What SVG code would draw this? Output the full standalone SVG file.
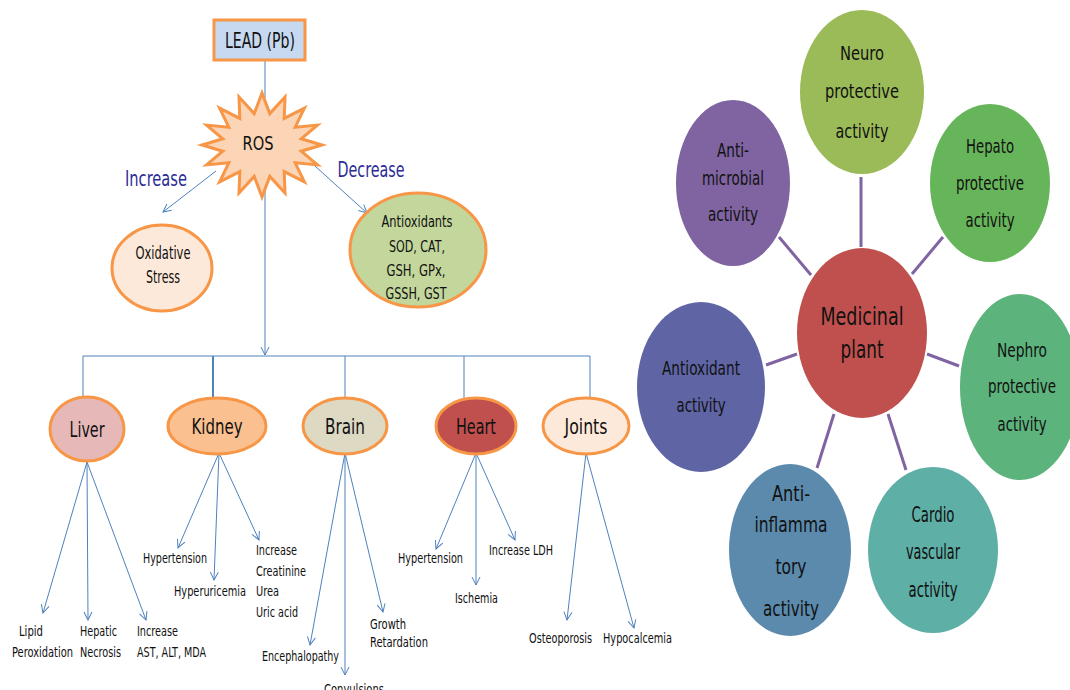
<svg xmlns="http://www.w3.org/2000/svg" width="1070" height="690" viewBox="0 0 1070 690">
<style>
text{font-family:"DejaVu Sans Condensed","Liberation Sans",sans-serif;fill:#111;text-anchor:middle}
.org{stroke:#f79646;stroke-width:3}
.conn line,.conn polyline{stroke:#4f81bd;stroke-width:1;fill:none}
.plink line{stroke:#8064a2;stroke-width:3}
.s14{font-size:15px}
.o{font-size:21px}
.r{font-size:20px}
.lbl{font-size:14px;text-anchor:start}
.blue{fill:#2b2b96;font-size:21px}
</style>
<defs>
<marker id="ah" viewBox="0 0 10 10" refX="9" refY="5" markerWidth="10" markerHeight="10" markerUnits="userSpaceOnUse" orient="auto">
<polyline points="1,1 9,5 1,9" fill="none" stroke="#4f81bd" stroke-width="1"/>
</marker>
</defs>
<rect width="1070" height="690" fill="#fff"/>

<g class="conn">
<line x1="265" y1="60" x2="265" y2="98"/>
<line x1="216" y1="171" x2="163" y2="212" marker-end="url(#ah)"/>
<line x1="305" y1="157" x2="367" y2="213" marker-end="url(#ah)"/>
<line x1="265" y1="190" x2="265" y2="355" marker-end="url(#ah)"/>
<polyline points="83,397 83,356 590,356 590,397"/>
<line x1="213" y1="356" x2="213" y2="398" style="stroke-width:2"/>
<line x1="345" y1="356" x2="345" y2="398"/>
<line x1="464" y1="356" x2="464" y2="398"/>
<line x1="87" y1="462" x2="43" y2="613" marker-end="url(#ah)"/>
<line x1="87" y1="462" x2="88" y2="620" marker-end="url(#ah)"/>
<line x1="87" y1="462" x2="146" y2="620" marker-end="url(#ah)"/>
<line x1="219" y1="453" x2="178" y2="548" marker-end="url(#ah)"/>
<line x1="219" y1="453" x2="214" y2="580" marker-end="url(#ah)"/>
<line x1="219" y1="453" x2="259" y2="540" marker-end="url(#ah)"/>
<line x1="345" y1="453" x2="310" y2="645" marker-end="url(#ah)"/>
<line x1="345" y1="453" x2="345" y2="675" marker-end="url(#ah)"/>
<line x1="345" y1="453" x2="383" y2="612" marker-end="url(#ah)"/>
<line x1="476" y1="453" x2="436" y2="549" marker-end="url(#ah)"/>
<line x1="476" y1="453" x2="476" y2="585" marker-end="url(#ah)"/>
<line x1="476" y1="453" x2="515" y2="540" marker-end="url(#ah)"/>
<line x1="586" y1="453" x2="567" y2="620" marker-end="url(#ah)"/>
<line x1="586" y1="453" x2="634" y2="628" marker-end="url(#ah)"/>
</g>

<g class="plink">
<line x1="861" y1="177" x2="861" y2="247"/>
<line x1="779" y1="237" x2="811" y2="275"/>
<line x1="943" y1="237" x2="912" y2="274"/>
<line x1="766" y1="365" x2="797" y2="354"/>
<line x1="927" y1="354" x2="959" y2="366"/>
<line x1="834" y1="414" x2="817" y2="468"/>
<line x1="888" y1="414" x2="906" y2="470"/>
</g>

<g id="lead">
<rect x="214" y="20" width="91" height="40" fill="#c6d9f1" class="org"/>
<text x="260" y="48" class="o" textLength="70" lengthAdjust="spacingAndGlyphs">LEAD (Pb)</text>
</g>
<g id="ros">
<polygon class="org" fill="#fbd5b5" points="262,93 269.8,113.6 285,97 284.2,118.4 304.4,108.2 295.2,127.2 317.4,125.1 301.2,138.8 322,145 301.2,151.2 317.4,164.9 295.2,162.8 304.4,181.8 284.2,171.6 285,193 269.8,176.4 262,197 254.2,176.4 239,193 239.8,171.6 219.6,181.8 228.8,162.8 206.6,164.9 222.8,151.2 202,145 222.8,138.8 206.6,125.1 228.8,127.2 219.6,108.2 239.8,118.4 239,97 254.2,113.6"/>
<text x="258" y="150" style="font-size:20px" textLength="31" lengthAdjust="spacingAndGlyphs">ROS</text>
</g>
<text class="blue" x="156" y="186" textLength="62" lengthAdjust="spacingAndGlyphs">Increase</text>
<text class="blue" x="371" y="177" textLength="67" lengthAdjust="spacingAndGlyphs">Decrease</text>
<g id="oxidative">
<ellipse cx="162" cy="268" rx="50" ry="43" fill="#fde9d9" class="org"/>
<text x="163" y="259" style="font-size:17px" textLength="55" lengthAdjust="spacingAndGlyphs">Oxidative</text>
<text x="163" y="283" style="font-size:17px" textLength="34" lengthAdjust="spacingAndGlyphs">Stress</text>
</g>
<g id="antioxidants">
<ellipse cx="418" cy="250" rx="68" ry="57" fill="#c3d69b" class="org"/>
<text class="s14" x="417" y="227" textLength="71" lengthAdjust="spacingAndGlyphs">Antioxidants</text>
<text class="s14" x="417" y="252" textLength="56" lengthAdjust="spacingAndGlyphs">SOD, CAT,</text>
<text class="s14" x="416" y="276" textLength="59" lengthAdjust="spacingAndGlyphs">GSH, GPx,</text>
<text class="s14" x="416" y="299" textLength="61" lengthAdjust="spacingAndGlyphs">GSSH, GST</text>
</g>

<g id="liver">
<ellipse cx="87" cy="429" rx="37" ry="32" fill="#e6b9b8" class="org"/>
<text x="87" y="437" class="o" textLength="35" lengthAdjust="spacingAndGlyphs">Liver</text>
</g>
<g id="kidney">
<ellipse cx="217" cy="426" rx="49" ry="28" fill="#fac090" class="org"/>
<text x="217" y="434" class="o" textLength="51" lengthAdjust="spacingAndGlyphs">Kidney</text>
</g>
<g id="brain">
<ellipse cx="345" cy="426" rx="42" ry="28" fill="#ddd9c3" class="org"/>
<text x="345" y="434" class="o" textLength="40" lengthAdjust="spacingAndGlyphs">Brain</text>
</g>
<g id="heart">
<ellipse cx="476" cy="426" rx="40" ry="28" fill="#c0504d" class="org"/>
<text x="476" y="434" class="o" textLength="40" lengthAdjust="spacingAndGlyphs">Heart</text>
</g>
<g id="joints">
<ellipse cx="586" cy="426" rx="43" ry="28" fill="#fde9d9" class="org"/>
<text x="586" y="434" class="o" textLength="43" lengthAdjust="spacingAndGlyphs">Joints</text>
</g>

<g id="liver-effects">
<text class="lbl" x="19" y="636" textLength="24" lengthAdjust="spacingAndGlyphs">Lipid</text>
<text class="lbl" x="12" y="657" textLength="61" lengthAdjust="spacingAndGlyphs">Peroxidation</text>
<text class="lbl" x="80" y="636" textLength="37" lengthAdjust="spacingAndGlyphs">Hepatic</text>
<text class="lbl" x="80" y="657" textLength="41" lengthAdjust="spacingAndGlyphs">Necrosis</text>
<text class="lbl" x="137" y="636" textLength="41" lengthAdjust="spacingAndGlyphs">Increase</text>
<text class="lbl" x="137" y="657" textLength="69" lengthAdjust="spacingAndGlyphs">AST, ALT, MDA</text>
</g>
<g id="kidney-effects">
<text class="lbl" x="143" y="563" textLength="64" lengthAdjust="spacingAndGlyphs">Hypertension</text>
<text class="lbl" x="174" y="596" textLength="72" lengthAdjust="spacingAndGlyphs">Hyperuricemia</text>
<text class="lbl" x="256" y="555" textLength="41" lengthAdjust="spacingAndGlyphs">Increase</text>
<text class="lbl" x="256" y="576" textLength="50" lengthAdjust="spacingAndGlyphs">Creatinine</text>
<text class="lbl" x="256" y="596" textLength="23" lengthAdjust="spacingAndGlyphs">Urea</text>
<text class="lbl" x="256" y="617" textLength="42" lengthAdjust="spacingAndGlyphs">Uric acid</text>
</g>
<g id="brain-effects">
<text class="lbl" x="262" y="661" textLength="77" lengthAdjust="spacingAndGlyphs">Encephalopathy</text>
<text class="lbl" x="324" y="694" textLength="60" lengthAdjust="spacingAndGlyphs">Convulsions</text>
<text class="lbl" x="370" y="629" textLength="36" lengthAdjust="spacingAndGlyphs">Growth</text>
<text class="lbl" x="370" y="647" textLength="58" lengthAdjust="spacingAndGlyphs">Retardation</text>
</g>
<g id="heart-effects">
<text class="lbl" x="398" y="563" textLength="65" lengthAdjust="spacingAndGlyphs">Hypertension</text>
<text class="lbl" x="455" y="603" textLength="43" lengthAdjust="spacingAndGlyphs">Ischemia</text>
<text class="lbl" x="489" y="555" textLength="64" lengthAdjust="spacingAndGlyphs">Increase LDH</text>
</g>
<g id="joints-effects">
<text class="lbl" x="529" y="643" textLength="63" lengthAdjust="spacingAndGlyphs">Osteoporosis</text>
<text class="lbl" x="603" y="643" textLength="69" lengthAdjust="spacingAndGlyphs">Hypocalcemia</text>
</g>

<g id="medicinal">
<ellipse cx="862" cy="333" rx="65" ry="85" fill="#c0504d"/>
<text x="862" y="325" style="font-size:25px" textLength="83" lengthAdjust="spacingAndGlyphs">Medicinal</text>
<text x="862" y="358" style="font-size:25px" textLength="43" lengthAdjust="spacingAndGlyphs">plant</text>
</g>
<g id="neuro">
<ellipse cx="862" cy="92" rx="62" ry="82" fill="#9bbb59"/>
<text x="862" y="60" class="r" textLength="44" lengthAdjust="spacingAndGlyphs">Neuro</text>
<text x="862" y="98" class="r" textLength="74" lengthAdjust="spacingAndGlyphs">protective</text>
<text x="862" y="138" class="r" textLength="53" lengthAdjust="spacingAndGlyphs">activity</text>
</g>
<g id="antimicrobial">
<ellipse cx="733" cy="183" rx="57" ry="83" fill="#8064a2"/>
<text x="733" y="157" class="r" textLength="32" lengthAdjust="spacingAndGlyphs">Anti-</text>
<text x="733" y="185" class="r" textLength="62" lengthAdjust="spacingAndGlyphs">microbial</text>
<text x="733" y="221" class="r" textLength="50" lengthAdjust="spacingAndGlyphs">activity</text>
</g>
<g id="hepato">
<ellipse cx="990" cy="183" rx="60" ry="79" fill="#67b55a"/>
<text x="990" y="153" style="font-size:19px" textLength="48" lengthAdjust="spacingAndGlyphs">Hepato</text>
<text x="990" y="190" style="font-size:19px" textLength="68" lengthAdjust="spacingAndGlyphs">protective</text>
<text x="990" y="227" style="font-size:19px" textLength="49" lengthAdjust="spacingAndGlyphs">activity</text>
</g>
<g id="antioxidant-activity">
<ellipse cx="701" cy="387" rx="64" ry="85" fill="#5f64a5"/>
<text x="701" y="375" style="font-size:19px" textLength="78" lengthAdjust="spacingAndGlyphs">Antioxidant</text>
<text x="701" y="412" style="font-size:19px" textLength="49" lengthAdjust="spacingAndGlyphs">activity</text>
</g>
<g id="nephro">
<ellipse cx="1020" cy="387" rx="60" ry="93" fill="#5db37c"/>
<text x="1022" y="357" style="font-size:19px" textLength="50" lengthAdjust="spacingAndGlyphs">Nephro</text>
<text x="1022" y="393" style="font-size:19px" textLength="68" lengthAdjust="spacingAndGlyphs">protective</text>
<text x="1022" y="431" style="font-size:19px" textLength="49" lengthAdjust="spacingAndGlyphs">activity</text>
</g>
<g id="antiinflammatory">
<ellipse cx="790" cy="550" rx="61" ry="86" fill="#5b8aad"/>
<text x="791" y="501" style="font-size:22px" textLength="38" lengthAdjust="spacingAndGlyphs">Anti-</text>
<text x="791" y="532" style="font-size:22px" textLength="73" lengthAdjust="spacingAndGlyphs">inflamma</text>
<text x="791" y="574" style="font-size:22px" textLength="31" lengthAdjust="spacingAndGlyphs">tory</text>
<text x="791" y="616" style="font-size:22px" textLength="56" lengthAdjust="spacingAndGlyphs">activity</text>
</g>
<g id="cardio">
<ellipse cx="933" cy="550" rx="65" ry="83" fill="#5eafa6"/>
<text x="933" y="522" style="font-size:21px" textLength="43" lengthAdjust="spacingAndGlyphs">Cardio</text>
<text x="933" y="559" style="font-size:21px" textLength="54" lengthAdjust="spacingAndGlyphs">vascular</text>
<text x="933" y="597" style="font-size:21px" textLength="49" lengthAdjust="spacingAndGlyphs">activity</text>
</g>
</svg>
